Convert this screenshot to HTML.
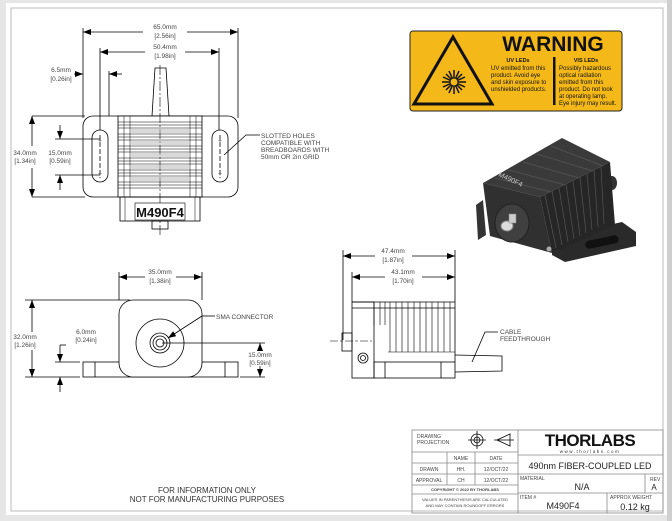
<!DOCTYPE html>
<html><head><meta charset="utf-8"><style>
html,body{margin:0;padding:0;background:#e4e4e4;}
svg{display:block;font-family:"Liberation Sans",sans-serif;}
.d{font-size:6.5px;fill:#444;text-anchor:middle;}
.l{font-size:6.5px;fill:#444;}
.t{font-size:5px;fill:#444;}
</style></head><body>
<svg width="672" height="521" viewBox="0 0 672 521" xmlns="http://www.w3.org/2000/svg">
<defs>
<marker id="a" markerWidth="8" markerHeight="6" refX="8" refY="3" orient="auto-start-reverse" markerUnits="userSpaceOnUse"><path d="M0,0 L8,3 L0,6z" fill="#000"/></marker>
</defs>
<rect x="0" y="0" width="672" height="521" fill="#e6e6e6"/>
<rect x="6" y="3" width="661" height="512" fill="#fff"/>
<rect x="11" y="8" width="652" height="503" fill="none" stroke="#bbb" stroke-width="1"/>
<rect x="667" y="0" width="5" height="521" fill="#cfcfcf"/>

<g stroke="#000" stroke-width="0.8" fill="none">
<line x1="83" y1="28" x2="83" y2="118"/><line x1="238" y1="28" x2="238" y2="118"/>
<line x1="100" y1="48" x2="100" y2="130"/><line x1="219" y1="48" x2="219" y2="130"/>
<line x1="83" y1="32" x2="143" y2="32" marker-start="url(#a)"/><line x1="187" y1="32" x2="238" y2="32" marker-end="url(#a)"/>
<line x1="100" y1="52" x2="145" y2="52" marker-start="url(#a)"/><line x1="185" y1="52" x2="219" y2="52" marker-end="url(#a)"/>
<line x1="74" y1="74" x2="83" y2="74" marker-end="url(#a)"/><line x1="109" y1="71" x2="109" y2="116"/><line x1="122" y1="74" x2="109" y2="74" marker-end="url(#a)"/>
<path d="M155,68 L166,68 L169,116 L152,116z"/>
<rect x="83" y="116" width="155" height="81" rx="10"/>
<rect x="92" y="130" width="16" height="52" rx="8"/><rect x="212" y="130" width="16" height="52" rx="8"/>
<rect x="118" y="116" width="84" height="81" fill="#fff"/>
<rect x="120" y="197" width="80" height="24"/>
<rect x="152" y="221" width="16" height="8"/>
<line x1="160" y1="65" x2="160" y2="235" stroke-dasharray="10,2,2,2" stroke-width="0.6"/>
<line x1="100" y1="135" x2="100" y2="178" stroke-dasharray="5,2"/><line x1="220" y1="135" x2="220" y2="178" stroke-dasharray="5,2"/>
<line x1="32" y1="116" x2="85" y2="116"/><line x1="32" y1="197" x2="85" y2="197"/>
<line x1="32" y1="146" x2="32" y2="116" marker-end="url(#a)"/><line x1="32" y1="168" x2="32" y2="197" marker-end="url(#a)"/>
<line x1="55" y1="139" x2="100" y2="139"/><line x1="55" y1="175" x2="100" y2="175"/>
<line x1="60" y1="125" x2="60" y2="139" marker-end="url(#a)"/><line x1="60" y1="190" x2="60" y2="175" marker-end="url(#a)"/>
<path d="M224,155 L246,135 L260,135"/>
</g>
<g fill="#bbb" opacity="0.55"><rect x="131" y="129" width="58" height="4"/><rect x="131" y="141" width="58" height="4"/><rect x="131" y="153" width="58" height="4"/><rect x="131" y="165" width="58" height="4"/><rect x="131" y="177" width="58" height="4"/></g>
<g stroke="#000" stroke-width="0.5">
<line x1="118" y1="122" x2="202" y2="122"/><line x1="118" y1="125" x2="202" y2="125"/><line x1="118" y1="128" x2="202" y2="128"/><line x1="118" y1="134" x2="202" y2="134"/><line x1="118" y1="137" x2="202" y2="137"/><line x1="118" y1="140" x2="202" y2="140"/><line x1="118" y1="146" x2="202" y2="146"/><line x1="118" y1="149" x2="202" y2="149"/><line x1="118" y1="152" x2="202" y2="152"/><line x1="118" y1="158" x2="202" y2="158"/><line x1="118" y1="161" x2="202" y2="161"/><line x1="118" y1="164" x2="202" y2="164"/><line x1="118" y1="170" x2="202" y2="170"/><line x1="118" y1="173" x2="202" y2="173"/><line x1="118" y1="176" x2="202" y2="176"/><line x1="118" y1="182" x2="202" y2="182"/><line x1="118" y1="185" x2="202" y2="185"/><line x1="118" y1="188" x2="202" y2="188"/>
<line x1="124" y1="116" x2="124" y2="197"/><line x1="130" y1="116" x2="130" y2="197"/><line x1="190" y1="116" x2="190" y2="197"/><line x1="196" y1="116" x2="196" y2="197"/>
<line x1="125" y1="197" x2="125" y2="221"/><line x1="195" y1="197" x2="195" y2="221"/>
</g>
<rect x="135" y="203" width="50" height="17" fill="#fff" stroke="#000" stroke-width="0.6"/>
<text x="160" y="217" font-size="13" font-weight="bold" text-anchor="middle" fill="#111">M490F4</text>
<text class="d" x="100" y="143">+</text><text class="d" x="100" y="176">+</text><text class="d" x="220" y="143">+</text><text class="d" x="220" y="176">+</text>
<text class="d" x="165" y="29">65.0mm</text><text class="d" x="165" y="38">[2.56in]</text>
<text class="d" x="165" y="49">50.4mm</text><text class="d" x="165" y="58">[1.98in]</text>
<text class="d" x="61" y="72">6.5mm</text><text class="d" x="61" y="81">[0.26in]</text>
<text class="d" x="25" y="155">34.0mm</text><text class="d" x="25" y="163">[1.34in]</text>
<text class="d" x="60" y="155">15.0mm</text><text class="d" x="60" y="163">[0.59in]</text>
<text class="l" x="261" y="138">SLOTTED HOLES</text><text class="l" x="261" y="145">COMPATIBLE WITH</text><text class="l" x="261" y="152">BREADBOARDS WITH</text><text class="l" x="261" y="159">50mm OR 2in GRID</text>

<g stroke="#000" stroke-width="0.8" fill="none">
<line x1="119" y1="272" x2="119" y2="300"/><line x1="202" y1="272" x2="202" y2="300"/>
<line x1="119" y1="277" x2="145" y2="277" marker-start="url(#a)"/><line x1="176" y1="277" x2="202" y2="277" marker-end="url(#a)"/>
<rect x="83" y="362" width="155" height="15"/>
<line x1="95" y1="362" x2="95" y2="377"/><line x1="225" y1="362" x2="225" y2="377"/>
<rect x="119" y="300" width="83" height="77" rx="14" fill="#fff"/>
<circle cx="160" cy="343" r="24"/><circle cx="160" cy="343" r="10"/><circle cx="160" cy="343" r="7"/><circle cx="160" cy="343" r="4"/>
<line x1="25" y1="300" x2="130" y2="300"/><line x1="25" y1="377" x2="80" y2="377"/>
<line x1="32" y1="332" x2="32" y2="300" marker-end="url(#a)"/><line x1="32" y1="350" x2="32" y2="377" marker-end="url(#a)"/>
<line x1="55" y1="362" x2="80" y2="362"/>
<line x1="60" y1="345" x2="60" y2="362" marker-end="url(#a)"/><line x1="60" y1="392" x2="60" y2="377" marker-end="url(#a)"/>
<line x1="60" y1="345" x2="66" y2="345"/>
<line x1="162" y1="343" x2="265" y2="343"/><line x1="240" y1="377" x2="265" y2="377"/>
<line x1="260" y1="350" x2="260" y2="343" marker-end="url(#a)"/><line x1="260" y1="366" x2="260" y2="377" marker-end="url(#a)"/>
<path d="M202,316 L215,316"/><line x1="202" y1="316" x2="168" y2="338" marker-end="url(#a)"/>
</g>
<text class="d" x="160" y="274">35.0mm</text><text class="d" x="160" y="283">[1.38in]</text>
<text class="d" x="25" y="339">32.0mm</text><text class="d" x="25" y="347">[1.26in]</text>
<text class="d" x="86" y="334">6.0mm</text><text class="d" x="86" y="342">[0.24in]</text>
<text class="d" x="260" y="357">15.0mm</text><text class="d" x="260" y="365">[0.59in]</text>
<text class="l" x="216" y="319">SMA CONNECTOR</text>

<g stroke="#000" stroke-width="0.8" fill="none">
<line x1="343" y1="250" x2="343" y2="340"/><line x1="455" y1="250" x2="455" y2="302"/><line x1="352" y1="272" x2="352" y2="302"/>
<line x1="343" y1="256" x2="375" y2="256" marker-start="url(#a)"/><line x1="412" y1="256" x2="455" y2="256" marker-end="url(#a)"/>
<line x1="352" y1="277" x2="385" y2="277" marker-start="url(#a)"/><line x1="422" y1="277" x2="455" y2="277" marker-end="url(#a)"/>
<rect x="352" y="302" width="22" height="76"/>
<rect x="342" y="333" width="10" height="18"/>
<rect x="374" y="362" width="81" height="16"/><line x1="385" y1="362" x2="385" y2="378"/><line x1="441" y1="362" x2="441" y2="378"/>
<line x1="352" y1="302" x2="455" y2="302"/><line x1="352" y1="308" x2="455" y2="308"/>
<line x1="455" y1="302" x2="455" y2="362"/>
<circle cx="363" cy="358" r="5"/><circle cx="363" cy="358" r="2.5"/>
<path d="M455,355 L502,356 L502,371 L455,372"/>
<path d="M472,362 L485,332 L498,332"/>
</g>
<g stroke="#000" stroke-width="0.6">
<line x1="374" y1="302" x2="374" y2="325"/><line x1="380" y1="302" x2="380" y2="325"/><line x1="385" y1="302" x2="385" y2="325"/><line x1="390" y1="302" x2="390" y2="352"/><line x1="396" y1="302" x2="396" y2="352"/><line x1="402" y1="302" x2="402" y2="352"/><line x1="408" y1="302" x2="408" y2="352"/><line x1="414" y1="302" x2="414" y2="352"/><line x1="420" y1="302" x2="420" y2="352"/><line x1="426" y1="302" x2="426" y2="352"/><line x1="432" y1="302" x2="432" y2="352"/><line x1="438" y1="302" x2="438" y2="352"/><line x1="444" y1="302" x2="444" y2="352"/><line x1="450" y1="302" x2="450" y2="352"/>
<line x1="388" y1="352" x2="455" y2="352"/>
<line x1="330" y1="341" x2="372" y2="341" stroke-dasharray="8,2,3,2"/>
</g>
<text class="d" x="393" y="253">47.4mm</text><text class="d" x="393" y="262">[1.87in]</text>
<text class="d" x="403" y="274">43.1mm</text><text class="d" x="403" y="283">[1.70in]</text>
<text class="l" x="500" y="334">CABLE</text><text class="l" x="500" y="341">FEEDTHROUGH</text>

<rect x="410" y="31" width="212" height="80" rx="3" fill="#f4b919" stroke="#222" stroke-width="1"/>
<path d="M414,104 L453,37 L492,104z" fill="none" stroke="#111" stroke-width="3"/>
<g stroke="#111" stroke-width="1.5"><line x1="442" y1="82" x2="466" y2="82"/><line x1="454" y1="70" x2="454" y2="94"/><line x1="446" y1="74" x2="462" y2="90"/><line x1="446" y1="90" x2="462" y2="74"/><line x1="443" y1="77" x2="465" y2="87"/><line x1="443" y1="87" x2="465" y2="77"/><line x1="449" y1="71" x2="459" y2="93"/><line x1="459" y1="71" x2="449" y2="93"/></g>
<circle cx="454" cy="82" r="4" fill="#f4b919" stroke="#111" stroke-width="1"/>
<text x="553" y="51" font-size="21" font-weight="bold" text-anchor="middle" fill="#111">WARNING</text>
<rect x="553" y="57" width="2.5" height="48" fill="#111"/>
<text x="518" y="62" font-size="5.5" font-weight="bold" text-anchor="middle" fill="#111">UV LEDs</text>
<text x="586" y="62" font-size="5.5" font-weight="bold" text-anchor="middle" fill="#111">VIS LEDs</text>
<g font-size="6" fill="#111"><text x="491" y="70">UV emitted from this</text><text x="491" y="77">product. Avoid eye</text><text x="491" y="84">and skin exposure to</text><text x="491" y="91">unshielded products.</text>
<text x="559" y="70">Possibly hazardous</text><text x="559" y="77">optical radiation</text><text x="559" y="84">emitted from this</text><text x="559" y="91">product. Do not look</text><text x="559" y="98">at operating lamp.</text><text x="559" y="105">Eye injury may result.</text></g>

<path d="M552,238 L622,222 L636,232 L636,246 L565,262 L552,255z" fill="#2a2a2a"/>
<rect x="585" y="238" width="34" height="8" rx="4" fill="#111" transform="rotate(-12 602 242)"/>
<path d="M476,205 L483,200 L486,235 L478,240z" fill="#333"/>
<ellipse cx="612" cy="183" rx="5" ry="7" fill="#333"/>
<path d="M483,183 L562,138 L610,162 L540,197z" fill="#3a3a3a"/>
<path d="M540,197 L610,162 L615,225 L552,253z" fill="#262626"/>
<path d="M483,183 L540,197 L552,253 L490,236z" fill="#303030"/>
<g stroke="#555" stroke-width="0.7"><line x1="545" y1="195" x2="556" y2="248"/><line x1="552" y1="191" x2="562" y2="245"/><line x1="559" y1="188" x2="568" y2="242"/><line x1="566" y1="184" x2="574" y2="239"/><line x1="573" y1="181" x2="580" y2="236"/><line x1="580" y1="177" x2="586" y2="233"/><line x1="587" y1="174" x2="592" y2="230"/><line x1="594" y1="170" x2="598" y2="227"/><line x1="601" y1="167" x2="604" y2="224"/>
<line x1="495" y1="178" x2="551" y2="192"/><line x1="509" y1="170" x2="565" y2="185"/><line x1="523" y1="162" x2="579" y2="178"/><line x1="537" y1="154" x2="593" y2="171"/><line x1="551" y1="146" x2="603" y2="166"/></g>
<ellipse cx="512" cy="223" rx="17" ry="19" fill="#404040" stroke="#222"/>
<ellipse cx="507" cy="226" rx="6" ry="5" fill="#ddd" stroke="#888"/>
<rect x="509" y="214" width="7" height="9" fill="#ccc" stroke="#888" stroke-width="0.5"/>
<circle cx="549" cy="249" r="2.5" fill="#aaa"/>
<text x="0" y="0" font-size="7" fill="#ccc" transform="translate(498,176) rotate(25)">M490F4</text>

<g stroke="#888" stroke-width="0.8" fill="none">
<rect x="412" y="430" width="251" height="83"/>
<line x1="518" y1="430" x2="518" y2="513"/>
<line x1="412" y1="452" x2="518" y2="452"/><line x1="412" y1="463" x2="518" y2="463"/><line x1="412" y1="474" x2="518" y2="474"/><line x1="412" y1="485" x2="518" y2="485"/><line x1="412" y1="494" x2="518" y2="494"/>
<line x1="447" y1="452" x2="447" y2="485"/><line x1="475" y1="452" x2="475" y2="485"/>
<line x1="518" y1="455" x2="663" y2="455"/><line x1="518" y1="474" x2="663" y2="474"/><line x1="518" y1="493" x2="663" y2="493"/>
<line x1="645" y1="474" x2="645" y2="493"/><line x1="607" y1="493" x2="607" y2="513"/>
</g>
<g stroke="#000" stroke-width="0.8" fill="none"><circle cx="477" cy="440" r="6"/><circle cx="477" cy="440" r="3"/><line x1="468" y1="440" x2="486" y2="440"/><line x1="477" y1="431" x2="477" y2="449"/><path d="M497,440 L510,434 L510,446 L497,440 M494,440 L514,440"/></g>
<text class="t" x="417" y="438">DRAWING</text><text class="t" x="417" y="444">PROJECTION</text>
<text class="t" x="461" y="460" text-anchor="middle">NAME</text><text class="t" x="496" y="460" text-anchor="middle">DATE</text>
<text class="t" x="429" y="471" text-anchor="middle">DRAWN</text><text class="t" x="461" y="471" text-anchor="middle">HH.</text><text class="t" x="496" y="471" text-anchor="middle" font-size="6">12/OCT/22</text>
<text class="t" x="429" y="482" text-anchor="middle">APPROVAL</text><text class="t" x="461" y="482" text-anchor="middle">CH</text><text class="t" x="496" y="482" text-anchor="middle" font-size="6">12/OCT/22</text>
<text x="465" y="491" font-size="4" font-weight="bold" text-anchor="middle" fill="#444">COPYRIGHT © 2022 BY THORLABS</text>
<text x="465" y="501" font-size="4" text-anchor="middle" fill="#444">VALUES IN PARENTHESIS ARE CALCULATED</text><text x="465" y="507" font-size="4" text-anchor="middle" fill="#444">AND MAY CONTAIN ROUNDOFF ERRORS</text>
<text x="590" y="446" font-size="17" font-weight="bold" text-anchor="middle" fill="#111" letter-spacing="-0.5">THORLABS</text>
<text x="590" y="453" font-size="4.5" text-anchor="middle" fill="#333" letter-spacing="1.5">www.thorlabs.com</text>
<text x="590" y="469" font-size="9" text-anchor="middle" fill="#222">490nm FIBER-COUPLED LED</text>
<text class="t" x="520" y="480">MATERIAL</text><text x="582" y="490" font-size="9" text-anchor="middle" fill="#222">N/A</text>
<text class="t" x="650" y="481">REV</text><text x="654" y="490" font-size="8" text-anchor="middle" fill="#222">A</text>
<text class="t" x="520" y="499">ITEM #</text><text x="563" y="509" font-size="9" text-anchor="middle" fill="#222">M490F4</text>
<text class="t" x="610" y="499">APPROX WEIGHT</text><text x="635" y="510" font-size="9" text-anchor="middle" fill="#222">0.12 kg</text>

<text x="207" y="493" font-size="8" text-anchor="middle" fill="#333">FOR INFORMATION ONLY</text>
<text x="207" y="502" font-size="8" text-anchor="middle" fill="#333">NOT FOR MANUFACTURING PURPOSES</text>
</svg>
</body></html>
